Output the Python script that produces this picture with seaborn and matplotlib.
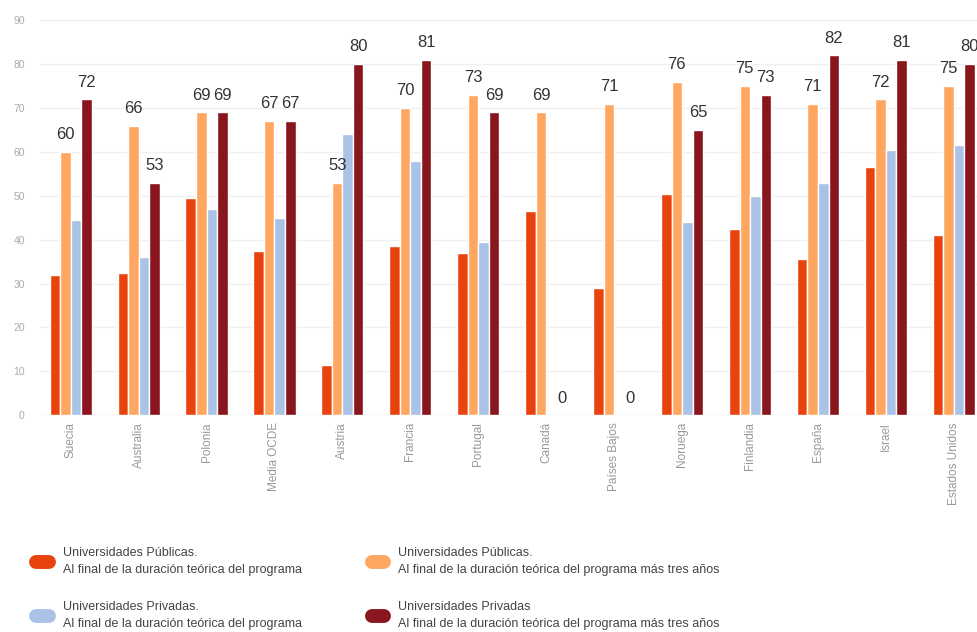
import matplotlib
matplotlib.use("Agg")
import matplotlib.pyplot as plt
from matplotlib.lines import Line2D
import seaborn as sns
import pandas as pd

# Data
paises = ["Suecia", "Australia", "Polonia", "Media OCDE", "Austria", "Francia", "Portugal",
          "Canadá", "Países Bajos", "Noruega", "Finlandia", "España", "Israel", "Estados Unidos"]
publicas_teorica = [32, 32.5, 49.5, 37.5, 11.5, 38.5, 37, 46.5, 29, 50.5, 42.5, 35.5, 56.5, 41]
publicas_mas3 = [60, 66, 69, 67, 53, 70, 73, 69, 71, 76, 75, 71, 72, 75]
privadas_teorica = [44.5, 36, 47, 45, 64, 58, 39.5, 0, 0, 44, 50, 53, 60.5, 61.5]
privadas_mas3 = [72, 53, 69, 67, 80, 81, 69, 0, 0, 65, 73, 82, 81, 80]

series = ["pub_t", "pub_3", "priv_t", "priv_3"]
etiquetas = [
    "Universidades Públicas.\nAl final de la duración teórica del programa",
    "Universidades Públicas.\nAl final de la duración teórica del programa más tres años",
    "Universidades Privadas.\nAl final de la duración teórica del programa",
    "Universidades Privadas\nAl final de la duración teórica del programa más tres años",
]
colores = ["#E8430C", "#FFA761", "#A9C2E6", "#8A161D"]

df = pd.DataFrame({
    "pais": paises * 4,
    "serie": [s for s in series for _ in paises],
    "valor": publicas_teorica + publicas_mas3 + privadas_teorica + privadas_mas3,
})

sns.set_style("white")
plt.rcParams["font.family"] = ["Liberation Sans", "DejaVu Sans"]

fig = plt.figure(figsize=(9.77, 6.32), dpi=100)
ax = fig.add_axes([0.041, 0.343, 0.959, 0.625])

sns.barplot(data=df, x="pais", y="valor", hue="serie", hue_order=series,
            palette=colores, width=0.62, saturation=1, ax=ax, legend=False)

# value labels on the "más tres años" series
for i in (1, 3):
    ax.bar_label(ax.containers[i], fmt="%.0f", padding=7, fontsize=12, color="#333333")

ax.set_ylim(0, 90)
ax.set_xlim(-0.45, 13.34)
ax.set_yticks(range(0, 91, 10))
ax.yaxis.grid(True, color="#F0F0F0", linewidth=1)
ax.set_axisbelow(True)
for s in ax.spines.values():
    s.set_visible(False)
ax.axhline(0, color="#E6E6E6", linewidth=1, zorder=0)
ax.set_xlabel("")
ax.set_ylabel("")
ax.tick_params(axis="y", labelsize=7.5, colors="#AAAAAA", length=0, pad=11)
ax.tick_params(axis="x", labelsize=8.5, colors="#999999", length=0, pad=5, rotation=90)

handles = [Line2D([0], [0], color=c, linewidth=10, solid_capstyle="round") for c in colores]
orden = [0, 2, 1, 3]
leg = fig.legend([handles[i] for i in orden], [etiquetas[i] for i in orden],
                 ncol=2, loc="upper left", bbox_to_anchor=(0.032, 0.142), frameon=False,
                 fontsize=9, labelcolor="#444444",
                 handlelength=1.0, handletextpad=1.1, columnspacing=5.6, labelspacing=2.0,
                 borderaxespad=0)
for t in leg.get_texts():
    t.set_linespacing(1.55)

fig.savefig("out.png", dpi=100, facecolor="white")
